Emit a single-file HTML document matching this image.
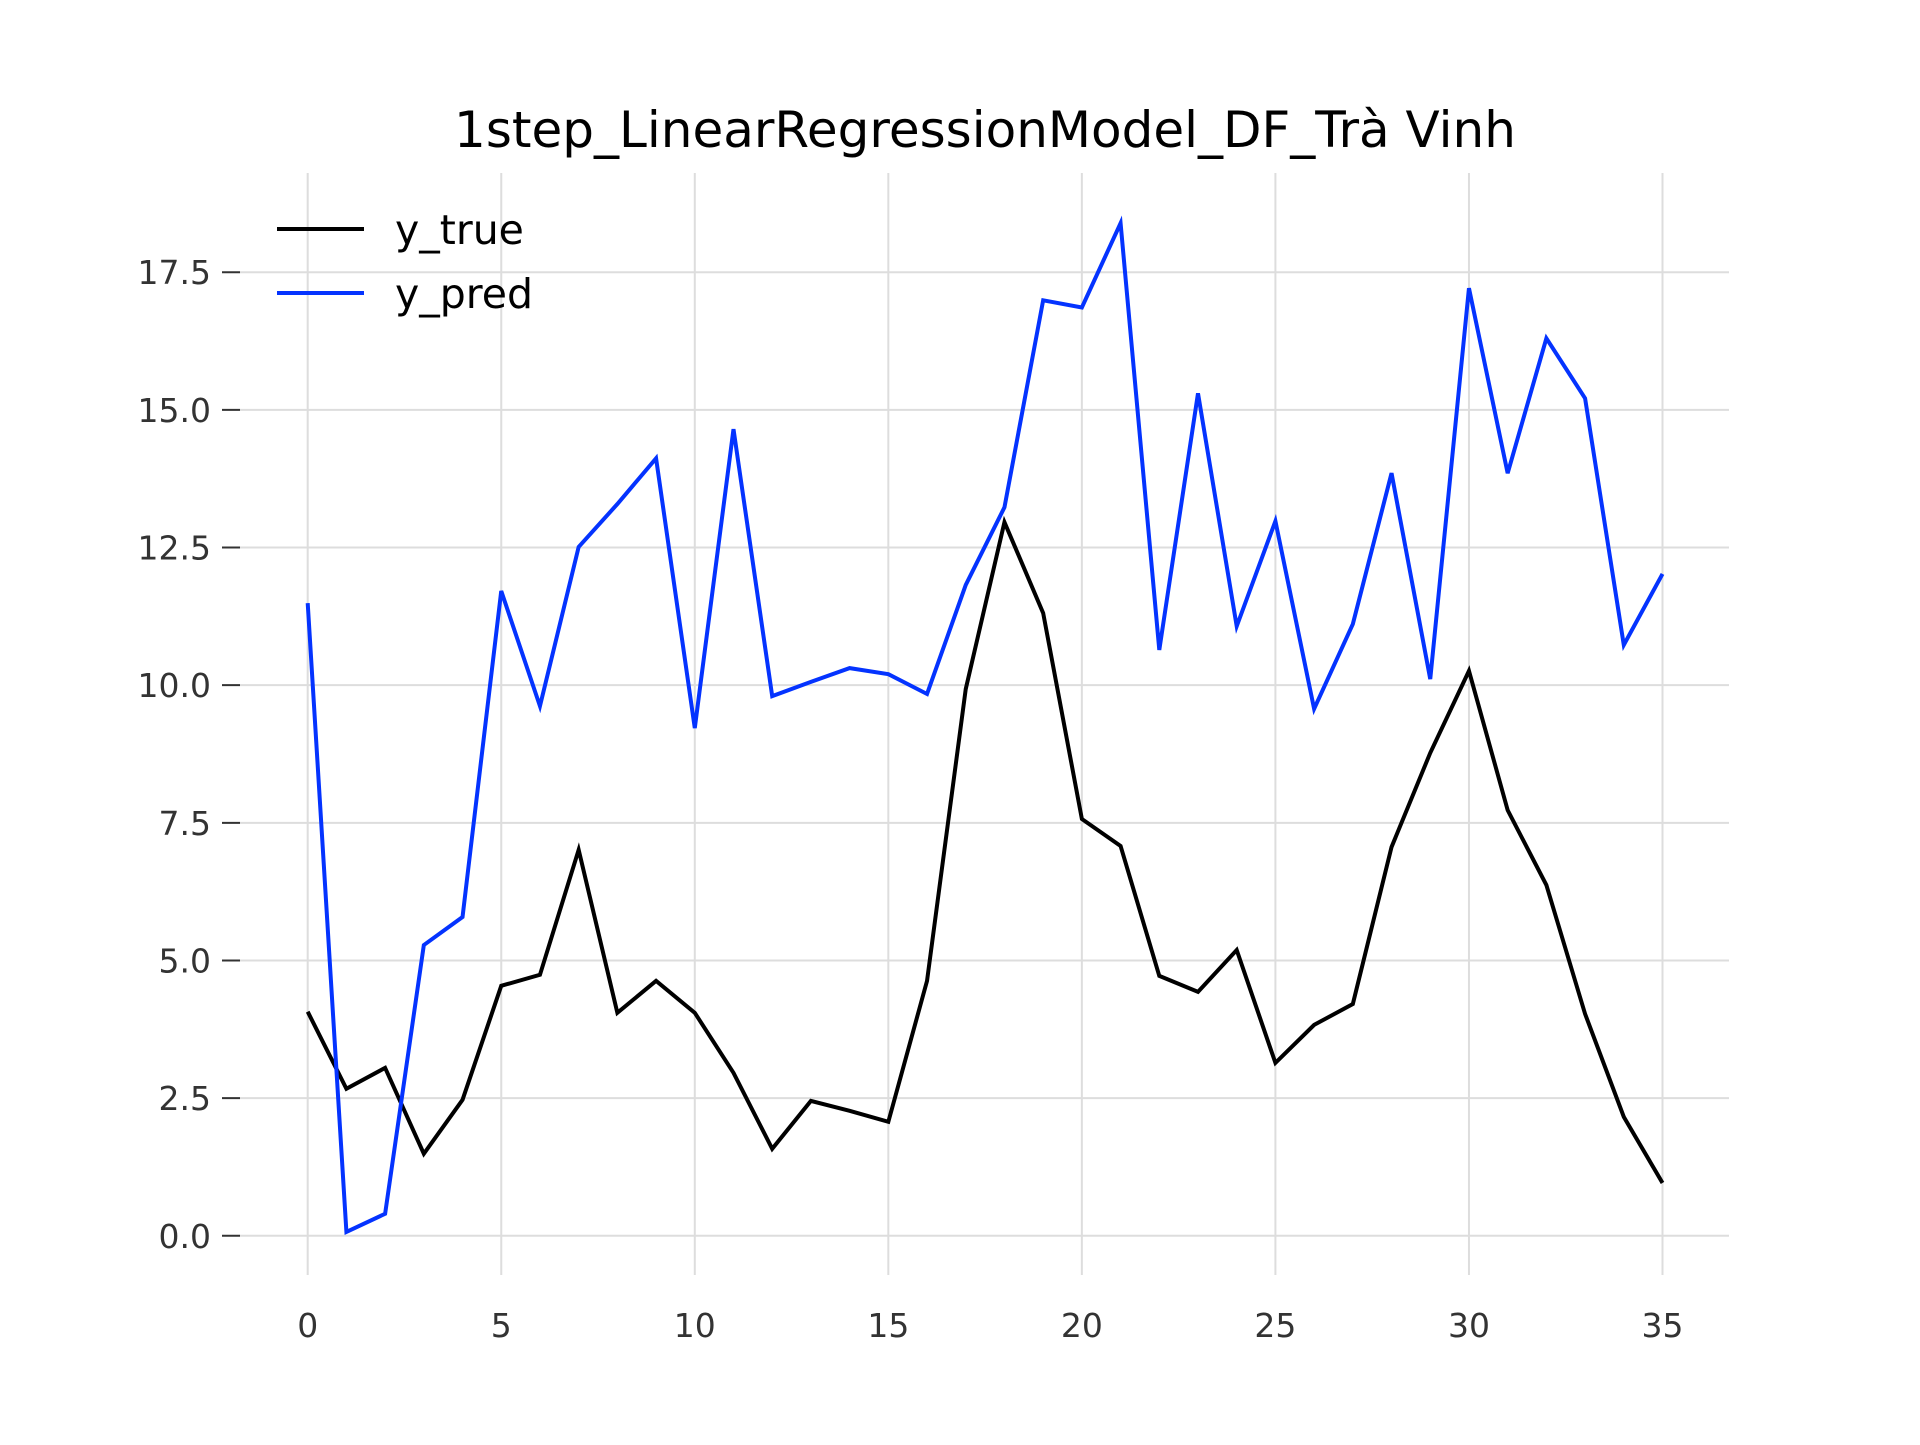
<!DOCTYPE html>
<html><head><meta charset="utf-8"><style>
html,body{margin:0;padding:0;background:#fff;}
svg text{font-family:"DejaVu Sans","Liberation Sans",sans-serif;}
</style></head><body>
<svg id="chart" width="1920" height="1440" viewBox="0 0 1920 1440" xmlns="http://www.w3.org/2000/svg">
<rect width="1920" height="1440" fill="#fff"/>
<text x="985" y="147" font-size="50" text-anchor="middle" fill="#000">1step_LinearRegressionModel_DF_Trà Vinh</text>
<g id="grid"></g><g id="ticks"></g><g id="series"></g>
<g>
<line x1="277" y1="229" x2="364" y2="229" stroke="#000" stroke-width="4"/>
<text x="395" y="244" font-size="41" fill="#000">y_true</text>
<line x1="277" y1="293" x2="364" y2="293" stroke="#0433ff" stroke-width="4"/>
<text x="395" y="308" font-size="41" fill="#000">y_pred</text>
</g>
</svg>
<script>
const xTicks=[0,5,10,15,20,25,30,35];
const yTicks=[0,2.5,5,7.5,10,12.5,15,17.5];
const yTickLabels=["0.0","2.5","5.0","7.5","10.0","12.5","15.0","17.5"];
const yTrue=[4.07,2.67,3.05,1.49,2.47,4.54,4.74,7.01,4.05,4.63,4.05,2.96,1.58,2.45,2.27,2.07,4.63,9.93,12.96,11.31,7.57,7.08,4.72,4.43,5.19,3.14,3.83,4.21,7.06,8.77,10.26,7.73,6.37,4.03,2.16,0.96];
const yPred=[11.49,0.07,0.40,5.28,5.79,11.71,9.62,12.51,13.29,14.12,9.22,14.65,9.80,10.06,10.31,10.20,9.84,11.82,13.23,16.99,16.86,18.39,10.64,15.30,11.07,12.98,9.57,11.11,13.85,10.11,17.21,13.85,16.30,15.21,10.73,12.02];
const NS="http://www.w3.org/2000/svg";
const X=v=>307.7+v*(1662.5-307.7)/35;
const Y=v=>1235.8-v*(1235.8-272.2)/17.5;
const L=240,R=1729,T=173,B=1275;
function mk(tag,attrs,parent){const e=document.createElementNS(NS,tag);for(const k in attrs)e.setAttribute(k,attrs[k]);document.getElementById(parent).appendChild(e);return e;}
xTicks.forEach(t=>{
 const g=mk('line',{x1:X(t),x2:X(t),y1:T,y2:B,stroke:'#dddddd','stroke-width':2},'grid');
 
 
 const tx=mk('text',{x:X(t),y:1337,'font-size':33,'text-anchor':'middle',fill:'#333'},'ticks');
 tx.textContent=t;
 
 
});
yTicks.forEach((t,i)=>{
 const g=mk('line',{x1:L,x2:R,y1:Y(t),y2:Y(t),stroke:'#dddddd','stroke-width':2},'grid');
 
 
 const tk=mk('line',{x1:222,x2:240,y1:Y(t),y2:Y(t),stroke:'#333','stroke-width':2},'ticks');
 
 
 const tx=mk('text',{x:211,y:Y(t)+12,'font-size':33,'text-anchor':'end',fill:'#333'},'ticks');
 tx.textContent=yTickLabels[i];
 
 
});
function line(data,color,name){
 const p=mk('polyline',{points:data.map((v,i)=>X(i)+','+Y(v)).join(' '),fill:'none',stroke:color,'stroke-width':4,'stroke-linejoin':'miter'},'series');
 
 
}
line(yTrue,'#000000','y-true-line');
line(yPred,'#0433ff','y-pred-line');
</script>
</body></html>
